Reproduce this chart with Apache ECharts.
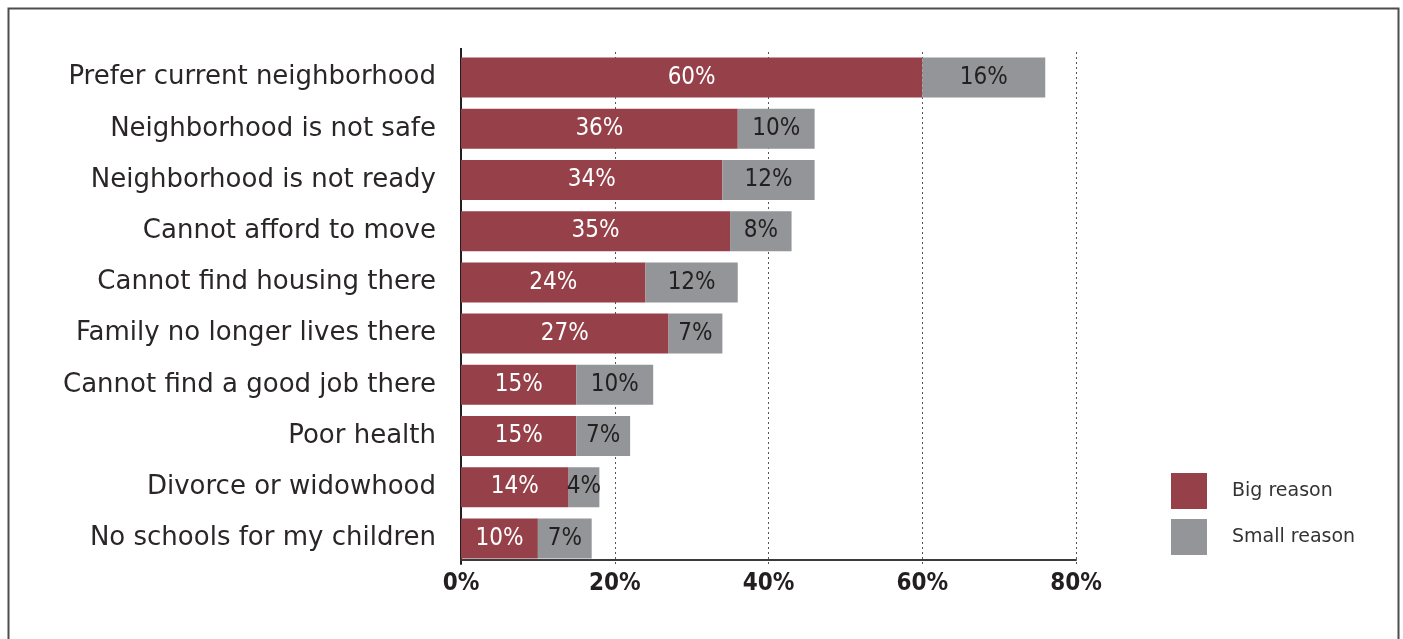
<!DOCTYPE html>
<html>
<head>
<meta charset="utf-8">
<script src="https://cdn.jsdelivr.net/npm/echarts@6/dist/echarts.min.js"></script>
<style>
  html, body { margin: 0; padding: 0; background: #fff; }
  #chart { width: 1403px; height: 639px; }
</style>
</head>
<body>
<div id="chart"></div>
<script>
// reasons for not moving back
var categories = [
  "Prefer current neighborhood",
  "Neighborhood is not safe",
  "Neighborhood is not ready",
  "Cannot afford to move",
  "Cannot find housing there",
  "Family no longer lives there",
  "Cannot find a good job there",
  "Poor health",
  "Divorce or widowhood",
  "No schools for my children"
];
var bigReason = [60, 36, 34, 35, 24, 27, 15, 15, 14, 10];
var smallReason = [16, 10, 12, 8, 12, 7, 10, 7, 4, 7];
var xTicks = [0, 20, 40, 60, 80];

var chart = echarts.init(document.getElementById("chart"));

var labelFont = "'Liberation Sans Narrow', 'DejaVu Sans Condensed', sans-serif";

var option = {
  animation: false,
  graphic: [
    {
      type: "rect",
      shape: { x: 8.5, y: 8.5, width: 1390, height: 660 },
      style: { fill: "none", stroke: "#4d4d4d", lineWidth: 2 },
      silent: true
    },
    // axis line reaches a bit above the first bar
    {
      type: "line",
      shape: { x1: 461, y1: 48, x2: 461, y2: 53 },
      style: { stroke: "#231f20", lineWidth: 2 },
      silent: true
    }
  ],
  legend: {
    orient: "vertical",
    left: 1171,
    top: 473,
    padding: 0,
    itemWidth: 36,
    itemHeight: 36,
    itemGap: 10,
    icon: "rect",
    textStyle: {
      fontFamily: "'DejaVu Sans', sans-serif",
      fontSize: 19,
      color: "#333",
      padding: [3, 0, 0, 20]
    },
    data: ["Big reason", "Small reason"]
  },
  grid: {
    left: 461,
    right: 327,
    top: 52,
    bottom: 75
  },
  xAxis: {
    type: "value",
    min: 0,
    max: 80,
    interval: 20,
    offset: -4,
    axisLine: { show: true, lineStyle: { color: "#3a3a3a", width: 2 } },
    axisTick: { show: false },
    splitLine: {
      show: true,
      lineStyle: { type: [2, 3], color: "#555", width: 1 }
    },
    axisLabel: {
      margin: 12,
      fontFamily: labelFont,
      fontWeight: "bold",
      fontSize: 24,
      color: "#231f20",
      formatter: function (v) {
        return xTicks.indexOf(v) >= 0 ? v + "%" : "";
      }
    }
  },
  yAxis: {
    type: "category",
    inverse: true,
    data: categories,
    axisLine: { show: true, lineStyle: { color: "#231f20", width: 2 } },
    axisTick: { show: false },
    axisLabel: {
      margin: 25,
      padding: [4, 0, 0, 0],
      fontFamily: "'DejaVu Sans', sans-serif",
      fontSize: 26,
      color: "#2a2627"
    }
  },
  series: [
    {
      name: "Big reason",
      type: "bar",
      stack: "total",
      barWidth: 40,
      data: bigReason,
      itemStyle: { color: "#96414a" },
      label: {
        show: true,
        position: "inside",
        formatter: "{c}%",
        fontFamily: labelFont,
        fontSize: 24,
        color: "#fff"
      }
    },
    {
      name: "Small reason",
      type: "bar",
      stack: "total",
      barWidth: 40,
      data: smallReason,
      itemStyle: { color: "#939598" },
      label: {
        show: true,
        position: "inside",
        formatter: "{c}%",
        fontFamily: labelFont,
        fontSize: 24,
        color: "#231f20"
      }
    }
  ]
};

option && chart.setOption(option);
</script>
</body>
</html>
